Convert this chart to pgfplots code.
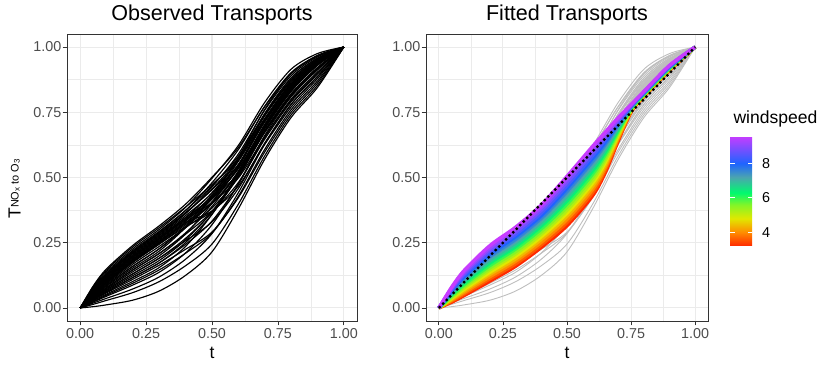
\documentclass[border=0pt]{standalone}
\usepackage{fontspec}
\setmainfont{Liberation Sans}
\usepackage{pgfplots}
\usepackage{pgfplotstable}
\pgfplotsset{compat=1.18}
\definecolor{gray20}{HTML}{333333}
\definecolor{gray30}{HTML}{4D4D4D}
\definecolor{grid92}{HTML}{EBEBEB}
\definecolor{obsgray}{HTML}{BEBEBE}

\pgfplotsset{
  colormap={windcm}{rgb255(0pt)=(255,40,0); rgb255(8pt)=(255,140,0); rgb255(16pt)=(225,232,0); rgb255(24pt)=(130,245,40); rgb255(31pt)=(0,250,110); rgb255(40pt)=(75,165,175); rgb255(48pt)=(30,100,255); rgb255(64pt)=(200,60,255)},
  panel/.style={
    scale only axis, height=287bp,
    xmin=-0.05, xmax=1.05, ymin=-0.05, ymax=1.05,
    xtick={0,0.25,0.5,0.75,1}, xticklabels={0.00,0.25,0.50,0.75,1.00},
    ytick={0,0.25,0.5,0.75,1}, yticklabels={0.00,0.25,0.50,0.75,1.00},
    minor xtick={0.125,0.375,0.625,0.875}, minor ytick={0.125,0.375,0.625,0.875},
    grid=both,
    major grid style={grid92, line width=1.07bp},
    minor grid style={grid92, line width=0.53bp},
    tick align=outside, major tick length=4.5bp, minor tick length=0pt,
    tick style={gray20, line width=0.75bp},
    axis line style={gray20, line width=0.75bp},
    tick pos=left,
    /pgf/number format/assume math mode=true,
    ticklabel style={font=\fontsize{14.4}{16}\selectfont, text=gray30},
    xticklabel style={inner sep=0pt, yshift=-3bp},
    yticklabel style={inner sep=0pt, xshift=-1bp},
  }
}

\pgfplotstableread{
t o1 o2 o3 o4 o5 o6 o7 o8 o9 o10 o11 o12 o13 o14 o15 o16 o17 o18 o19 o20 o21 o22 o23 o24 o25 o26 o27 o28 o29 o30 o31 o32 o33 o34 o35 o36 o37 o38 o39 o40
0 0 0 0 0 0 0 0 0 0 0 0 0 0 0 0 0 0 0 0 0 0 0 0 0 0 0 0 0 0 0 0 0 0 0 0 0 0 0 0 0
0.05 .085 .078 .071 .068 .064 .061 .057 .054 .050 .050 .046 .041 .039 .037 .034 .032 .028 .025 .023 .019 .014 .005 .075 .055 .043 .066 .030 .082 .059 .052 .048 .062 .041 .069 .037 .054 .073 .046 .061 .032
0.1 .150 .139 .128 .123 .117 .112 .106 .101 .095 .095 .087 .078 .074 .070 .066 .062 .053 .049 .045 .037 .029 .012 .134 .103 .083 .120 .058 .145 .109 .098 .091 .114 .078 .125 .070 .101 .131 .087 .112 .062
0.2 .240 .227 .214 .208 .201 .195 .188 .182 .175 .175 .160 .146 .139 .131 .124 .117 .102 .095 .088 .073 .059 .030 .221 .185 .153 .204 .110 .234 .191 .178 .168 .198 .146 .211 .131 .182 .217 .160 .195 .117
0.3 .315 .301 .287 .280 .273 .266 .259 .252 .245 .245 .227 .209 .200 .191 .182 .173 .155 .146 .137 .119 .101 .065 .294 .256 .218 .277 .164 .308 .263 .249 .236 .270 .209 .284 .191 .252 .291 .227 .266 .173
0.4 .398 .386 .366 .362 .347 .346 .335 .332 .320 .312 .308 .283 .284 .258 .261 .244 .236 .210 .211 .187 .162 .125 .374 .326 .309 .354 .225 .387 .340 .326 .308 .346 .288 .363 .267 .326 .374 .314 .339 .251
0.5 .501 .497 .453 .464 .418 .442 .418 .433 .400 .370 .407 .370 .401 .330 .369 .333 .359 .287 .319 .285 .245 .215 .468 .372 .425 .439 .291 .473 .428 .419 .383 .425 .389 .456 .367 .402 .480 .420 .404 .359
0.6 .615 .623 .563 .590 .517 .568 .534 .570 .520 .481 .540 .502 .543 .458 .515 .474 .519 .428 .475 .442 .398 .380 .582 .467 .577 .550 .423 .573 .548 .549 .503 .535 .525 .573 .507 .514 .607 .563 .498 .508
0.7 .772 .788 .723 .758 .673 .738 .701 .745 .690 .647 .716 .677 .724 .632 .696 .653 .703 .608 .661 .628 .583 .570 .742 .627 .761 .713 .598 .726 .715 .722 .673 .698 .702 .736 .686 .680 .773 .743 .656 .691
0.8 .898 .915 .856 .890 .810 .873 .839 .881 .830 .790 .856 .820 .864 .780 .839 .800 .847 .760 .810 .780 .740 .730 .873 .770 .898 .847 .750 .856 .851 .860 .815 .834 .843 .868 .830 .820 .902 .881 .795 .834
0.9 .966 .975 .944 .962 .913 .953 .935 .957 .930 .896 .944 .921 .948 .887 .935 .904 .939 .870 .913 .887 .853 .845 .953 .879 .966 .939 .862 .944 .941 .946 .917 .932 .937 .950 .930 .921 .968 .957 .900 .932
1 1 1 1 1 1 1 1 1 1 1 1 1 1 1 1 1 1 1 1 1 1 1 1 1 1 1 1 1 1 1 1 1 1 1 1 1 1 1 1 1
}\obs

\pgfplotstableread{
t c0 c1 c2 c3 c4 c5 c6 c7 c8 c9 c10 c11 c12 c13 c14 c15 c16
0 0 0 0 0 0 0 0 0 0 0 0 0 0 0 0 0 0
0.05 .022 .0256 .0293 .0329 .0365 .0401 .0438 .0474 .051 .0546 .0583 .0619 .0655 .0691 .0728 .0764 .080
0.1 .048 .054 .060 .066 .072 .078 .084 .090 .0965 .103 .109 .115 .121 .127 .133 .139 .145
0.2 .103 .112 .120 .129 .137 .146 .154 .163 .172 .180 .189 .197 .206 .214 .223 .231 .240
0.3 .160 .169 .179 .188 .198 .207 .216 .226 .235 .244 .254 .263 .273 .282 .291 .301 .310
0.4 .232 .242 .252 .263 .273 .283 .293 .303 .314 .324 .334 .344 .354 .364 .375 .385 .395
0.5 .315 .327 .339 .351 .363 .374 .386 .398 .410 .422 .434 .446 .458 .469 .481 .493 .505
0.6 .430 .442 .454 .466 .478 .489 .501 .513 .525 .537 .549 .561 .573 .584 .596 .608 .620
0.65 .520 .530 .539 .549 .559 .568 .578 .588 .598 .607 .617 .627 .636 .646 .656 .665 .675
0.7 .640 .646 .651 .657 .663 .668 .674 .679 .685 .691 .696 .702 .708 .713 .719 .724 .730
0.75 .750 .752 .754 .756 .758 .759 .761 .763 .765 .767 .769 .771 .773 .774 .776 .778 .780
0.8 .810 .811 .813 .814 .815 .816 .818 .819 .820 .821 .823 .824 .825 .826 .828 .829 .830
0.9 .910 .911 .913 .914 .915 .916 .918 .919 .920 .921 .923 .924 .925 .926 .928 .929 .930
1 1 1 1 1 1 1 1 1 1 1 1 1 1 1 1 1 1
}\fitted

\newcommand\fitc[2]{\addplot[smooth, line width=3.3bp, color of colormap={#2 of windcm}, draw=.] table[x=t,y=c#1]{\fitted};}

\begin{document}
\begin{tikzpicture}
\useasboundingbox (0,0) rectangle (830bp,369bp);

\begin{axis}[panel, at={(67bp,48bp)}, anchor=south west, width=290bp]
\pgfplotsinvokeforeach{1,...,40}{
  \addplot[black, line width=1.15bp, smooth] table[x=t,y=o#1]{\obs};
}
\end{axis}

\begin{axis}[panel, at={(426bp,48bp)}, anchor=south west, width=282bp,
  colormap name=windcm, colorbar right, point meta min=3.2, point meta max=9.6,
  colorbar/width=22bp,
  colorbar style={
    at={(parent axis.north east)}, anchor=north west, xshift=13.5bp, yshift=-102bp,
    height=110bp,
    ytick={4,6,8}, yticklabels={4,6,8},
    ytick pos=both, yticklabel pos=right,
    major tick length=4.5bp, tick align=inside,
    tick style={white, line width=0.8bp},
    axis line style={draw=none},
    yticklabel style={font=\fontsize{14.4}{16}\selectfont, text=black, inner sep=0pt, xshift=10bp},
  }]
\pgfplotsinvokeforeach{1,...,40}{
  \addplot[obsgray, line width=0.9bp, smooth] table[x=t,y=o#1]{\obs};
}
\fitc{0}{0}
\fitc{1}{62.5}
\fitc{2}{125}
\fitc{3}{187.5}
\fitc{4}{250}
\fitc{5}{312.5}
\fitc{6}{375}
\fitc{7}{437.5}
\fitc{8}{500}
\fitc{9}{562.5}
\fitc{10}{625}
\fitc{11}{687.5}
\fitc{12}{750}
\fitc{13}{812.5}
\fitc{14}{875}
\fitc{15}{937.5}
\fitc{16}{1000}
\addplot[black, line width=2.3bp, dash pattern=on 2.3bp off 2.7bp] coordinates {(0,0) (1,1)};
\end{axis}

\node[anchor=base, font=\fontsize{21.6}{24}\selectfont] at (212bp,348bp) {Observed Transports};
\node[anchor=base, font=\fontsize{21.6}{24}\selectfont] at (567bp,348bp) {Fitted Transports};
\node[anchor=base, font=\fontsize{17.6}{20}\selectfont] at (212bp,11bp) {t};
\node[anchor=base, font=\fontsize{17.6}{20}\selectfont] at (567bp,11bp) {t};
\node[anchor=base west, font=\fontsize{17.6}{20}\selectfont] at (730bp,245bp) {windspeed};
\node[rotate=90, anchor=base, font=\fontsize{17.6}{20}\selectfont] at (20.5bp,180bp)
  {T\raisebox{2pt}{\fontsize{11}{11}\selectfont NO\raisebox{-1.2pt}{\fontsize{8}{8}\selectfont x} to O\raisebox{-1.2pt}{\fontsize{8}{8}\selectfont 3}}};
\end{tikzpicture}
\end{document}
